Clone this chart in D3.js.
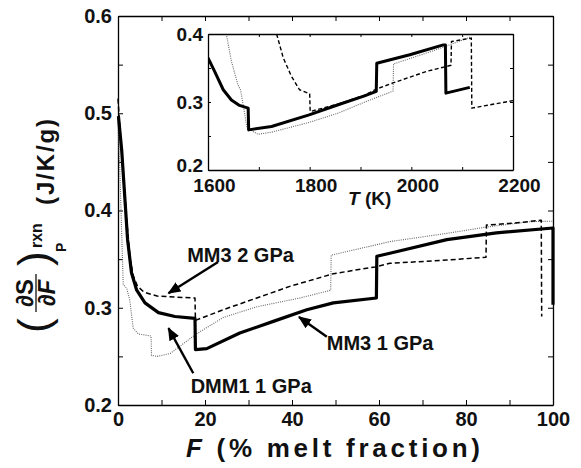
<!DOCTYPE html>
<html lang="en">
<head>
<meta charset="UTF-8">
<title>dS/dF rxn</title>
<script src="https://d3js.org/d3.v7.min.js"></script>
<style>
  body { margin: 0; background: #fff; }
  svg text { font-family: "Liberation Sans", Arial, Helvetica, sans-serif; font-weight: bold; fill: #111; }
</style>
</head>
<body>
<script>
// ---- main panel: F (% melt fraction) vs (dS/dF)_P rxn
var mm3_1gpa_F = [0.1, 0.85, 1.6, 2.2, 3.1, 4.3, 6.2, 9.3, 13.1, 17.7, 17.8, 20.4, 28, 35.7, 43.4, 49.5, 59.4, 59.5, 62.5, 75.6, 87, 100, 100];
var mm3_1gpa_S = [0.497, 0.462, 0.411, 0.370, 0.336, 0.318, 0.305, 0.295, 0.291, 0.289, 0.257, 0.258, 0.274, 0.286, 0.298, 0.305, 0.310, 0.353, 0.356, 0.370, 0.377, 0.382, 0.303];

var mm3_2gpa_F = [0, 0.5, 1.2, 2.0, 2.8, 3.5, 4.5, 6, 9, 13, 17.7, 17.8, 24.2, 31.9, 39.5, 49.5, 59.1, 62.5, 75.6, 84.6, 84.7, 90.9, 97.3, 97.4];
var mm3_2gpa_S = [0.515, 0.48, 0.44, 0.39, 0.35, 0.333, 0.322, 0.316, 0.312, 0.311, 0.310, 0.287, 0.298, 0.310, 0.322, 0.335, 0.342, 0.3457, 0.349, 0.352, 0.385, 0.387, 0.390, 0.291];

var dmm1_1gpa_F = [0, 0.4, 0.85, 1.2, 2.0, 2.7, 3.5, 4.7, 7.6, 7.7, 9.0, 12, 18, 24.2, 31.9, 41.8, 48.9, 49.0, 62.5, 75.6, 84.7, 94.7, 100];
var dmm1_1gpa_S = [0.49, 0.445, 0.376, 0.324, 0.320, 0.308, 0.279, 0.273, 0.271, 0.251, 0.250, 0.253, 0.273, 0.290, 0.301, 0.310, 0.318, 0.354, 0.368, 0.3765, 0.383, 0.3885, 0.389];

var mainXTicks = [0, 10, 20, 30, 40, 50, 60, 70, 80, 90, 100];
var mainXLabels = [0, 20, 40, 60, 80, 100];
var mainYTicks = [0.2, 0.25, 0.3, 0.35, 0.4, 0.45, 0.5, 0.55, 0.6];
var mainYLabels = [0.2, 0.3, 0.4, 0.5, 0.6];

// ---- inset: T (K)
var in_mm3_1gpa_T = [1600, 1613, 1630, 1646, 1662, 1679, 1680, 1725, 1799, 1856, 1908, 1931, 1932, 1997, 2063, 2067, 2068, 2115];
var in_mm3_1gpa_S = [0.365, 0.345, 0.318, 0.303, 0.295, 0.291, 0.259, 0.264, 0.281, 0.296, 0.309, 0.3155, 0.357, 0.3695, 0.384, 0.384, 0.313, 0.3215];

var in_mm3_2gpa_T = [1735, 1748, 1764, 1780, 1797, 1800, 1801, 1856, 1908, 1931, 1964, 2030, 2078, 2079, 2118, 2119, 2200];
var in_mm3_2gpa_S = [0.4, 0.365, 0.338, 0.318, 0.313, 0.312, 0.286, 0.297, 0.310, 0.319, 0.328, 0.345, 0.354, 0.389, 0.394, 0.291, 0.302];

var in_dmm1_1gpa_T = [1636, 1646, 1659, 1664, 1677, 1698, 1725, 1799, 1856, 1908, 1964, 1965, 2030, 2068, 2100, 2118];
var in_dmm1_1gpa_S = [0.4, 0.36, 0.325, 0.318, 0.2615, 0.2526, 0.2556, 0.27, 0.2836, 0.2998, 0.316, 0.356, 0.372, 0.382, 0.391, 0.396];

var insetXTicks = [1600, 1700, 1800, 1900, 2000, 2100, 2200];
var insetXLabels = [1600, 1800, 2000, 2200];
var insetYTicks = [0.2, 0.25, 0.3, 0.35, 0.4];
var insetYLabels = [0.2, 0.3, 0.4];

// labels with arrows, in data units: [text, textF, textS, tailF, tailS, tipF, tipS]
var notes = [
  ['MM3 2 GPa', 15.9, 0.347, 23.0, 0.347, 11.6, 0.315],
  ['DMM1 1 GPa', 16.7, 0.2123, 17.3, 0.2326, 11.6, 0.279],
  ['MM3 1 GPa', 48.0, 0.2566, 48.0, 0.2702, 41.6, 0.2905]
];

var width = 581, height = 468;
var svg = d3.select('body').append('svg').attr('width', width).attr('height', height);

var main = {left: 118, right: 553, top: 16, bottom: 405};
var x = d3.scaleLinear().domain([0, 100]).range([main.left, main.right]);
var y = d3.scaleLinear().domain([0.2, 0.6]).range([main.bottom, main.top]);

function zip(a, b) { return a.map(function(d, i) { return [d, b[i]]; }); }

// styles for the three models
var solid = {stroke: '#000', width: 3.2, dash: null};
var dashed = {stroke: '#000', width: 1.5, dash: '5,3'};
var dotted = {stroke: '#666', width: 1.1, dash: '1,1.2'};

function drawLine(g, pts, sx, sy, st) {
  var line = d3.line().x(function(d) { return sx(d[0]); }).y(function(d) { return sy(d[1]); });
  g.append('path')
    .attr('d', line(pts))
    .attr('fill', 'none')
    .attr('stroke', st.stroke)
    .attr('stroke-width', st.width)
    .attr('stroke-dasharray', st.dash)
    .attr('stroke-linejoin', 'round');
}

function styleAxis(g, fs) {
  g.select('.domain').attr('stroke', '#000').attr('stroke-width', 1.3);
  g.selectAll('.tick line').attr('stroke', '#000').attr('stroke-width', 1);
  g.selectAll('.tick text').attr('font-size', fs).attr('fill', '#111')
    .style('font-family', '"Liberation Sans", Arial, sans-serif').style('font-weight', 'bold');
}

// ---- main axes (ticks inside, on all four sides)
var gx = svg.append('g').attr('transform', 'translate(0,' + main.bottom + ')')
  .call(d3.axisBottom(x).tickValues(mainXTicks).tickSizeInner(-5).tickSizeOuter(0).tickPadding(7)
    .tickFormat(function(d) { return mainXLabels.indexOf(d) >= 0 ? d : ''; }));
styleAxis(gx, 20);
var gxt = svg.append('g').attr('transform', 'translate(0,' + main.top + ')')
  .call(d3.axisTop(x).tickValues(mainXTicks).tickSizeInner(-5).tickSizeOuter(0).tickFormat(''));
styleAxis(gxt, 20);
var gy = svg.append('g').attr('transform', 'translate(' + main.left + ',0)')
  .call(d3.axisLeft(y).tickValues(mainYTicks).tickSizeInner(-5).tickSizeOuter(0).tickPadding(6)
    .tickFormat(function(d) {
      return mainYLabels.some(function(v) { return Math.abs(v - d) < 1e-6; }) ? d3.format('.1f')(d) : '';
    }));
styleAxis(gy, 20);
var gyr = svg.append('g').attr('transform', 'translate(' + main.right + ',0)')
  .call(d3.axisRight(y).tickValues(mainYTicks).tickSizeInner(-5).tickSizeOuter(0).tickFormat(''));
styleAxis(gyr, 20);

// ---- main curves
var gm = svg.append('g');
drawLine(gm, zip(dmm1_1gpa_F, dmm1_1gpa_S), x, y, dotted);
drawLine(gm, zip(mm3_2gpa_F, mm3_2gpa_S), x, y, dashed);
drawLine(gm, zip(mm3_1gpa_F, mm3_1gpa_S), x, y, solid);

// ---- annotations
svg.append('defs').append('marker')
  .attr('id', 'head').attr('viewBox', '0 0 12 10').attr('refX', 11).attr('refY', 5)
  .attr('markerWidth', 13).attr('markerHeight', 11).attr('markerUnits', 'userSpaceOnUse')
  .attr('orient', 'auto')
  .append('path').attr('d', 'M0,0 L12,5 L0,10 Z').attr('fill', '#000');

notes.forEach(function(n) {
  svg.append('line')
    .attr('x1', x(n[3])).attr('y1', y(n[4])).attr('x2', x(n[5])).attr('y2', y(n[6]))
    .attr('stroke', '#000').attr('stroke-width', 2.4).attr('marker-end', 'url(#head)');
  svg.append('text').attr('x', x(n[1])).attr('y', y(n[2])).attr('font-size', 20).text(n[0]);
});

// ---- axis titles
var xt = svg.append('text').attr('x', 186).attr('y', 457).attr('font-size', 26)
  .attr('textLength', 294).attr('lengthAdjust', 'spacing');
xt.append('tspan').attr('font-style', 'italic').text('F');
xt.append('tspan').text(' (% melt fraction)');

// y title, rotated: local (lx, ly) = (-screenY, screenX)
var yt = svg.append('g').attr('transform', 'rotate(-90)');
yt.append('text').attr('x', -333).attr('y', 49).attr('font-size', 44).style('font-weight', 'normal').text('(');
yt.append('text').attr('x', -293).attr('y', 33).attr('font-size', 24).attr('text-anchor', 'middle').text('\u2202S');
yt.append('text').attr('x', -293).attr('y', 55).attr('font-size', 24).attr('text-anchor', 'middle')
  .html('\u2202<tspan font-style="italic">F</tspan>');
yt.append('line').attr('x1', -312).attr('x2', -274).attr('y1', 36).attr('y2', 36).attr('stroke', '#111').attr('stroke-width', 1.3);
yt.append('text').attr('x', -266).attr('y', 49).attr('font-size', 44).style('font-weight', 'normal').text(')');
yt.append('text').attr('x', -248).attr('y', 42).attr('font-size', 16).text('rxn');
yt.append('text').attr('x', -252).attr('y', 66).attr('font-size', 14).text('P');
yt.append('text').attr('x', -205).attr('y', 54).attr('font-size', 24)
  .attr('textLength', 86).attr('lengthAdjust', 'spacing').text('(J/K/g)');

// ---- inset
var inset = {left: 208, right: 513, top: 34, bottom: 170};
var ix = d3.scaleLinear().domain([1600, 2200]).range([inset.left, inset.right]);
var iy = d3.scaleLinear().domain([0.2, 0.4]).range([inset.bottom, inset.top]);

svg.append('rect').attr('x', inset.left).attr('y', inset.top)
  .attr('width', inset.right - inset.left).attr('height', inset.bottom - inset.top).attr('fill', '#fff');

svg.append('clipPath').attr('id', 'inclip').append('rect')
  .attr('x', inset.left).attr('y', inset.top)
  .attr('width', inset.right - inset.left).attr('height', inset.bottom - inset.top);

var gi = svg.append('g').attr('clip-path', 'url(#inclip)');
drawLine(gi, zip(in_dmm1_1gpa_T, in_dmm1_1gpa_S), ix, iy, dotted);
drawLine(gi, zip(in_mm3_2gpa_T, in_mm3_2gpa_S), ix, iy, {stroke: '#000', width: 1.4, dash: '4,2.5'});
drawLine(gi, zip(in_mm3_1gpa_T, in_mm3_1gpa_S), ix, iy, {stroke: '#000', width: 3, dash: null});

var gix = svg.append('g').attr('transform', 'translate(0,' + inset.bottom + ')')
  .call(d3.axisBottom(ix).tickValues(insetXTicks).tickSizeInner(-3).tickSizeOuter(0).tickPadding(9)
    .tickFormat(function(d) { return insetXLabels.indexOf(d) >= 0 ? d : ''; }));
styleAxis(gix, 19);
gix.selectAll('.tick text').attr('dx', 6);
var gixt = svg.append('g').attr('transform', 'translate(0,' + inset.top + ')')
  .call(d3.axisTop(ix).tickValues(insetXTicks).tickSizeInner(-3).tickSizeOuter(0).tickFormat(''));
styleAxis(gixt, 19);
var giy = svg.append('g').attr('transform', 'translate(' + inset.left + ',0)')
  .call(d3.axisLeft(iy).tickValues(insetYTicks).tickSizeInner(-3).tickSizeOuter(0).tickPadding(5)
    .tickFormat(function(d) {
      return insetYLabels.some(function(v) { return Math.abs(v - d) < 1e-6; }) ? d3.format('.1f')(d) : '';
    }));
styleAxis(giy, 19);
// bottom label sits a little higher, as in the original
giy.selectAll('.tick text').filter(function(d) { return d < 0.21; }).attr('dy', '0.1em');
var giyr = svg.append('g').attr('transform', 'translate(' + inset.right + ',0)')
  .call(d3.axisRight(iy).tickValues(insetYTicks).tickSizeInner(-3).tickSizeOuter(0).tickFormat(''));
styleAxis(giyr, 19);

var it = svg.append('text').attr('x', 348).attr('y', 205).attr('font-size', 19);
it.append('tspan').attr('font-style', 'italic').text('T');
it.append('tspan').text(' (K)');
</script>
</body>
</html>
